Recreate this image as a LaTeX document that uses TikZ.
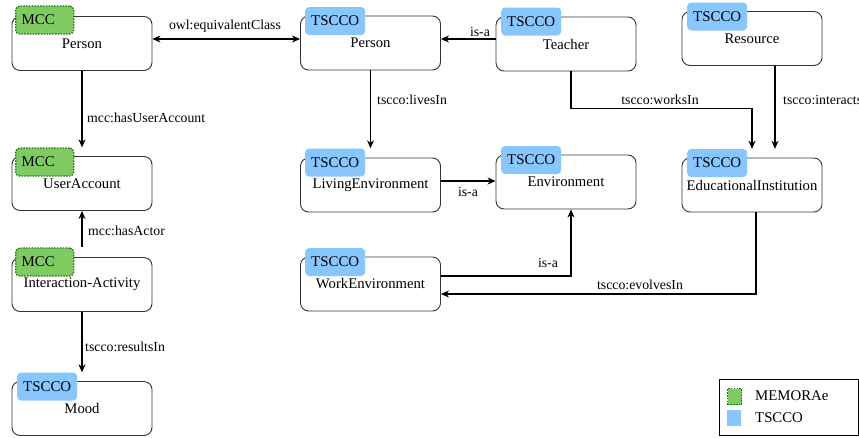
\documentclass[tikz,border=0pt]{standalone}
\usepackage{fontspec}
\setmainfont{Liberation Serif}
\usetikzlibrary{arrows.meta}
\definecolor{mccgreen}{HTML}{7FCB62}
\definecolor{mccborder}{HTML}{1F6F1F}
\definecolor{tsblue}{HTML}{88C6FF}
\begin{document}
\begin{tikzpicture}[x=1pt,y=-1pt,
 box/.style={draw=black!80, line width=0.9pt, rounded corners=8pt, minimum width=140pt, minimum height=54pt, inner sep=0pt, font=\fontsize{14.7}{16}\selectfont},
 tagbase/.style={anchor=west, rounded corners=4pt, minimum height=28pt, inner xsep=6pt, inner ysep=0pt, align=left, font=\fontsize{14.9}{16}\selectfont},
 mcctag/.style={tagbase, text width=46pt, fill=mccgreen, draw=mccborder, dash pattern=on 1.5pt off 1.3pt, line width=1.3pt},
 tstag/.style={tagbase, text width=48pt, fill=tsblue},
 lbl/.style={font=\fontsize{13.8}{15}\selectfont, inner sep=0pt},
 tip/.style={},
 arr/.style={line width=1.1pt, -{Stealth[length=8pt,width=7pt,inset=2.5pt]}},
 darr/.style={line width=1.1pt, {Stealth[length=8pt,width=7pt,inset=2.5pt]}-{Stealth[length=8pt,width=7pt,inset=2.5pt]}},
 legsq/.style={minimum width=14pt, minimum height=16pt, inner sep=0pt, anchor=north west},
 legtxt/.style={anchor=west, inner sep=0pt, font=\fontsize{14.8}{16}\selectfont}
]
\useasboundingbox (0,0) rectangle (859,437);

% boxes
\node[box] (mccp) at (82,43.5) {Person};
\node[box] (ua) at (82,183.5) {UserAccount};
\node[box] (ia) at (82,284.5) {Interaction-Activity};
\node[box] (mood) at (82,408.5) {Mood};
\node[box] (tp) at (370.5,43) {Person};
\node[box] (teacher) at (566,44) {Teacher};
\node[box] (res) at (752,38.5) {Resource};
\node[box] (lv) at (370.5,185) {LivingEnvironment};
\node[box] (env) at (566,182) {Environment};
\node[box] (ei) at (752,185) {EducationalInstitution};
\node[box] (work) at (370.5,284) {WorkEnvironment};

% tags
\node[mcctag] (mccptag) at (15,20) {MCC};
\node[mcctag] (uatag) at (15,162) {MCC};
\node[mcctag] (iatag) at (15,262) {MCC};
\node[tstag] (moodtag) at (17,386.5) {TSCCO};
\node[tstag] (tptag) at (305,21) {TSCCO};
\node[tstag] (teachertag) at (501,21.5) {TSCCO};
\node[tstag] (restag) at (687,16.5) {TSCCO};
\node[tstag] (lvtag) at (305,162.5) {TSCCO};
\node[tstag] (envtag) at (501,160) {TSCCO};
\node[tstag] (eitag) at (687,163) {TSCCO};
\node[tstag] (worktag) at (305,262) {TSCCO};

% connectors
\draw[darr] ([yshift=4.5pt]mccp.east) -- ([yshift=4.5pt]mccp.east -| tp.west);
\draw[arr] (mccp.south) -- (uatag.north -| mccp.south);
\draw[arr] (iatag.north -| ia.north) -- (ua.south);
\draw[arr] (ia.south) -- (moodtag.north -| ia.south);
\draw[arr] (tp.south) -- (lvtag.north -| tp.south);
\draw[arr] ([yshift=5pt]teacher.west) -- ([yshift=5pt]teacher.west -| tp.east);
\draw[arr] ([xshift=5pt]teacher.south) -- ++(0,37) -| (eitag.north -| ei.north);
\draw[arr] ([xshift=23pt]res.south) -- ([xshift=23pt]res.south |- eitag.north);
\draw[arr] ([yshift=4pt]lv.east) -- ([yshift=4pt]lv.east -| env.west);
\draw[arr] ([yshift=8pt]work.east) -| ([xshift=5pt]env.south);
\draw[arr] ([xshift=4pt]ei.south) |- ([yshift=-10pt]work.east);

% labels
\node[lbl] (l1) at (225,26) {owl:equivalentClass};
\node[lbl, anchor=west] (l2) at (87,118) {mcc:hasUserAccount};
\node[lbl, anchor=west] (l3) at (88,231) {mcc:hasActor};
\node[lbl, anchor=west] (l4) at (85,347) {tscco:resultsIn};
\node[lbl, anchor=west] (l5) at (377,100) {tscco:livesIn};
\node[lbl] (l6) at (480,32) {is-a};
\node[lbl] (l7) at (660,100) {tscco:worksIn};
\node[lbl, anchor=west] (l8) at (783,100) {tscco:interactsWith};
\node[lbl] (l9) at (468,192) {is-a};
\node[lbl] (l10) at (548,263) {is-a};
\node[lbl] (l11) at (640,285) {tscco:evolvesIn};

% legend
\node[draw=black, line width=0.9pt, minimum width=139pt, minimum height=56pt, inner sep=0pt, anchor=north west] (legend) at (718.5,379) {};
\node[legsq, fill=mccgreen, draw=mccborder, dash pattern=on 1.5pt off 1.3pt, line width=1.3pt] (lg1) at (727,388) {};
\node[legsq, fill=tsblue] (lg2) at (727,410) {};
\node[legtxt] (lt1) at (755,396) {MEMORAe};
\node[legtxt] (lt2) at (755,418) {TSCCO};
\end{tikzpicture}
\end{document}
